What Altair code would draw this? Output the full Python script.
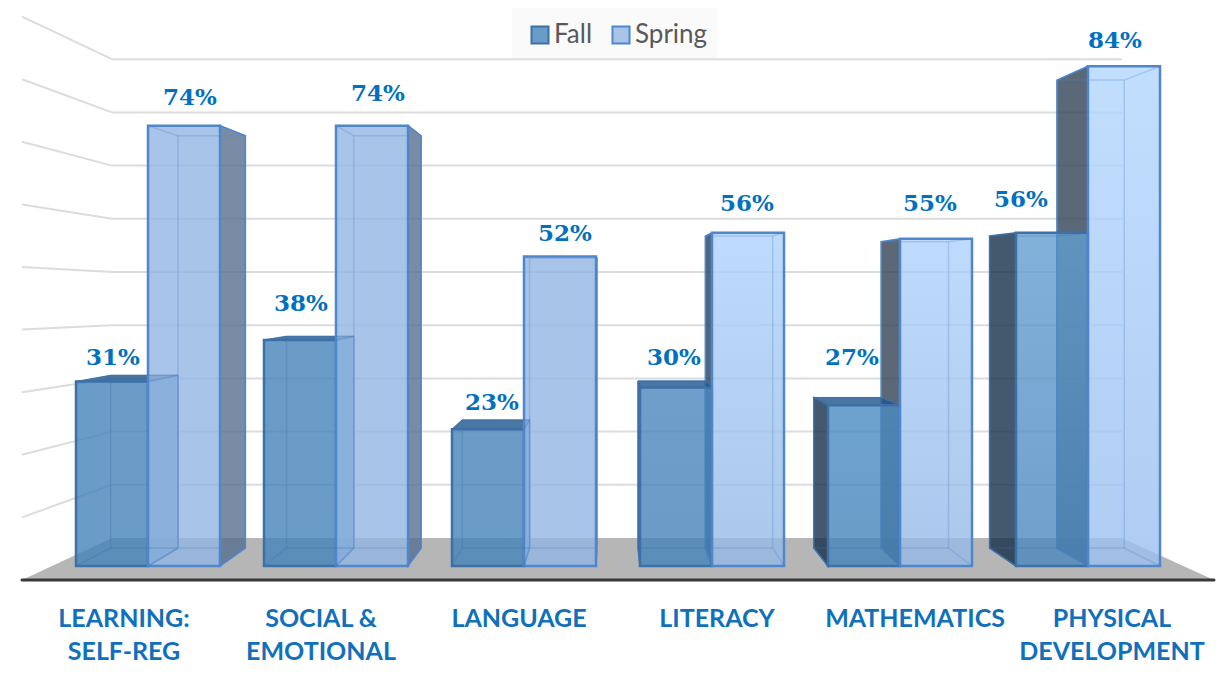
import altair as alt
import pandas as pd

# ---- chart values
categories = [["LEARNING:", "SELF-REG"], ["SOCIAL &", "EMOTIONAL"], ["LANGUAGE"], ["LITERACY"], ["MATHEMATICS"], ["PHYSICAL", "DEVELOPMENT"]]
fall = [31, 38, 23, 30, 27, 56]
spring = [74, 74, 52, 56, 55, 84]
grid_levels = [0, 10, 20, 30, 40, 50, 60, 70, 80, 90]

# ---- layout (reference pixels; page offset 8)
W, H = 1211, 657
BAR_W, PITCH, FIRST = 72, 188, 76
VX, K = 610, 0.935


def pct(py):
    return (566 - py) / 5.95


def bx(x):
    return VX + (x - VX) * K


def bv(v):
    return (18 + 5.57 * v) / 5.95


def back_wall(v):
    return (28 + 5.32 * v) / 5.95


def front_wall(v):
    return (-14 + 6.26 * v) / 5.95


def solid(hex_target, a=0.8):
    """colour which, at opacity a over white, shows as hex_target"""
    h = hex_target.lstrip("#")
    c = [max(0, min(255, round((int(h[i:i + 2], 16) - (1 - a) * 255) / a))) for i in (0, 2, 4)]
    return "#%02x%02x%02x" % tuple(c)


def poly_rows(pts, fid, fill, edge):
    xs = sorted({p[0] for p in pts})
    rows = []
    n = len(pts)
    for x in xs:
        ys = []
        for i in range(n):
            (x0, y0), (x1, y1) = pts[i], pts[(i + 1) % n]
            if min(x0, x1) <= x <= max(x0, x1):
                if x0 == x1:
                    ys += [y0, y1]
                else:
                    ys.append(y0 + (y1 - y0) * (x - x0) / (x1 - x0))
        rows.append(dict(x=x, y=max(ys), y2=min(ys), id=fid, fill=fill, edge=edge))
    return rows


xs = alt.Scale(domain=[8, 8 + W], nice=False, zero=False)
ys = alt.Scale(domain=[pct(8 + H), pct(8)], nice=False, zero=False)
X = alt.X("x:Q", scale=xs, axis=None)
Y = alt.Y("y:Q", scale=ys, axis=None)
X2 = alt.X2("x2")
Y2 = alt.Y2("y2")

layers = []

# legend backing panel
layers.append(alt.Chart(pd.DataFrame([dict(x=512, x2=717, y=pct(58), y2=pct(8))])).mark_rect(
    fill="#fafafa").encode(x=X, x2=X2, y=Y, y2=Y2))

# legend key source: painted first, then covered by the floor
leg = alt.Legend(
    orient="none", legendX=519, legendY=14, direction="horizontal", title=None,
    symbolType="square", symbolSize=290, symbolStrokeWidth=2,
    labelFontSize=26, labelFont="Lato", labelColor="#595959",
    padding=0, labelOffset=1, columnPadding=15)
layers.append(alt.Chart(pd.DataFrame(dict(Series=["Fall", "Spring"], x=[600, 600], y=[pct(560), pct(560)]))).mark_square(
    size=1, opacity=1, fillOpacity=1, strokeOpacity=1).encode(
    x=X, y=Y,
    color=alt.Color("Series:N", scale=alt.Scale(domain=["Fall", "Spring"], range=["#6a9cc8", "#a8c4e8"]), legend=leg),
    stroke=alt.Stroke("Series:N", scale=alt.Scale(domain=["Fall", "Spring"], range=["#3d70a6", "#4f86cc"]), legend=leg)))

# floor
floor = pd.DataFrame(poly_rows(
    [(22, pct(580)), (112, back_wall(0)), (1122, back_wall(0)), (1214, pct(580))], "floor", "#b6b6b6", "#b6b6b6"))
layers.append(alt.Chart(floor).mark_area(orient="vertical").encode(
    x=X, y=Y, y2=Y2, color=alt.Color("fill:N", scale=None)))

# back wall and left wall grid
grid_rows = []
for g in grid_levels[1:]:
    grid_rows.append(dict(x=112, x2=1122, y=back_wall(g), y2=back_wall(g)))
    grid_rows.append(dict(x=22, x2=112, y=front_wall(g), y2=back_wall(g)))
layers.append(alt.Chart(pd.DataFrame(grid_rows)).mark_rule(color="#dcdcdc", strokeWidth=2).encode(
    x=X, x2=X2, y=Y, y2=Y2))

# bar faces
FALL_EDGE = "#3d70a6"
SPRING_EDGE = "#4f86cc"
fall_fronts = [("#6a9cc8", "#6a9cc8")] * 3 + [("#6e9fca", "#6a9cc8"), ("#6ea2ce", "#6a9cc8"), ("#82b1da", "#6e9fcb")]
spring_fronts = [("#a8c4e8", "#a8c4e8")] * 3 + [("#bedafc", "#aac6ea"), ("#bedafc", "#aac6ea"), ("#c2defe", "#afccf2")]

side_rows, top_rows, line_rows, fronts = [], [], [], []
for i in range(6):
    for s, v in enumerate((fall[i], spring[i])):
        a = FIRST + PITCH * i + BAR_W * s
        b = a + BAR_W
        a2, b2, v2, base2 = bx(a), bx(b), bv(v), bv(0)
        edge = FALL_EDGE if s == 0 else SPRING_EDGE
        fid = f"{i}-{s}"
        if i < 3:
            colour = "#6a9cc8" if s == 0 else "#7a8ca5"
            side_rows += poly_rows([(b, v), (b2, v2), (b2, base2), (b, 0)], fid, solid(colour),
                                   "#6a9cc8" if s == 0 else SPRING_EDGE)
        else:
            colour = "#44586e" if s == 0 else ("#4f6580" if i == 3 else "#5a6878")
            side_rows += poly_rows([(a, v), (a2, v2), (a2, base2), (a, 0)], fid, solid(colour), edge)
        if s == 0 and i < 5:
            top_rows += poly_rows([(a, v), (a2, v2), (b2, v2), (b, v)], fid, solid("#4a76a4"), FALL_EDGE)
        for (x0, y0, x1, y1) in [(a2, v2, b2, v2), (a2, base2, b2, base2), (a2, base2, a2, v2),
                                 (b2, base2, b2, v2), (a, v, a2, v2), (b, v, b2, v2),
                                 (a, 0, a2, base2), (b, 0, b2, base2)]:
            line_rows.append(dict(x=x0, y=y0, x2=x1, y2=y1, edge=edge))
        fronts.append(dict(x=a, x2=b, y=v, y2=0, s=s, i=i, edge=edge))

layers.append(alt.Chart(pd.DataFrame(side_rows)).mark_area(orient="vertical", strokeWidth=1.5, fillOpacity=0.8).encode(
    x=X, y=Y, y2=Y2, detail="id:N", color=alt.Color("fill:N", scale=None), stroke=alt.Stroke("edge:N", scale=None)))
layers.append(alt.Chart(pd.DataFrame(top_rows)).mark_area(orient="vertical", strokeWidth=1, fillOpacity=0.8).encode(
    x=X, y=Y, y2=Y2, detail="id:N", color=alt.Color("fill:N", scale=None), stroke=alt.Stroke("edge:N", scale=None)))

for f in fronts:
    top, bottom = (fall_fronts if f["s"] == 0 else spring_fronts)[f["i"]]
    grad = alt.LinearGradient(gradient="linear", x1=0, x2=0, y1=0, y2=1,
                              stops=[alt.GradientStop(color=solid(top), offset=0),
                                     alt.GradientStop(color=solid(bottom), offset=1)])
    layers.append(alt.Chart(pd.DataFrame([f])).mark_rect(
        fill=grad, fillOpacity=0.8, stroke=f["edge"], strokeWidth=2.5).encode(x=X, x2=X2, y=Y, y2=Y2))

layers.append(alt.Chart(pd.DataFrame(line_rows)).mark_rule(strokeWidth=1.5, opacity=0.28).encode(
    x=X, x2=X2, y=Y, y2=Y2, color=alt.Color("edge:N", scale=None)))

# front edge of the floor
layers.append(alt.Chart(pd.DataFrame([dict(x=22, x2=1214, y=pct(580), y2=pct(580))])).mark_rule(
    color="#383838", strokeWidth=3, strokeCap="round").encode(x=X, x2=X2, y=Y, y2=Y2))

# value labels
label_cx_fall = [113, 301, 492, 674, 852, 1021]
label_py_fall = [358, 304, 403, 358, 358, 200]
label_cx_spring = [190, 378, 565, 747, 930, 1115]
label_py_spring = [98, 94, 234, 204, 204, 41]
lab = []
for i in range(6):
    lab.append(dict(x=label_cx_fall[i], y=pct(label_py_fall[i]), t=f"{fall[i]}%"))
    lab.append(dict(x=label_cx_spring[i], y=pct(label_py_spring[i]), t=f"{spring[i]}%"))
layers.append(alt.Chart(pd.DataFrame(lab)).mark_text(
    font="DejaVu Serif", fontWeight="bold", fontSize=23, color="#0070c0", baseline="middle", align="center").encode(
    x=X, y=Y, text="t:N"))

# category labels
cat_cx = [124, 321, 519, 717, 915, 1112]
cat_py = [619, 652]
cr = []
for i, lines in enumerate(categories):
    for j, t in enumerate(lines):
        cr.append(dict(x=cat_cx[i], y=pct(cat_py[j]), t=t))
layers.append(alt.Chart(pd.DataFrame(cr)).mark_text(
    font="Lato", fontWeight="bold", fontSize=25, color="#1070bb", baseline="middle", align="center").encode(
    x=X, y=Y, text="t:N"))

chart = alt.layer(*layers).properties(
    width=W, height=H, padding=0, background="white",
    autosize=alt.AutoSizeParams(type="none"),
).configure_view(stroke=None)

chart.save("out.html", embed_options={"renderer": "svg", "actions": False})
